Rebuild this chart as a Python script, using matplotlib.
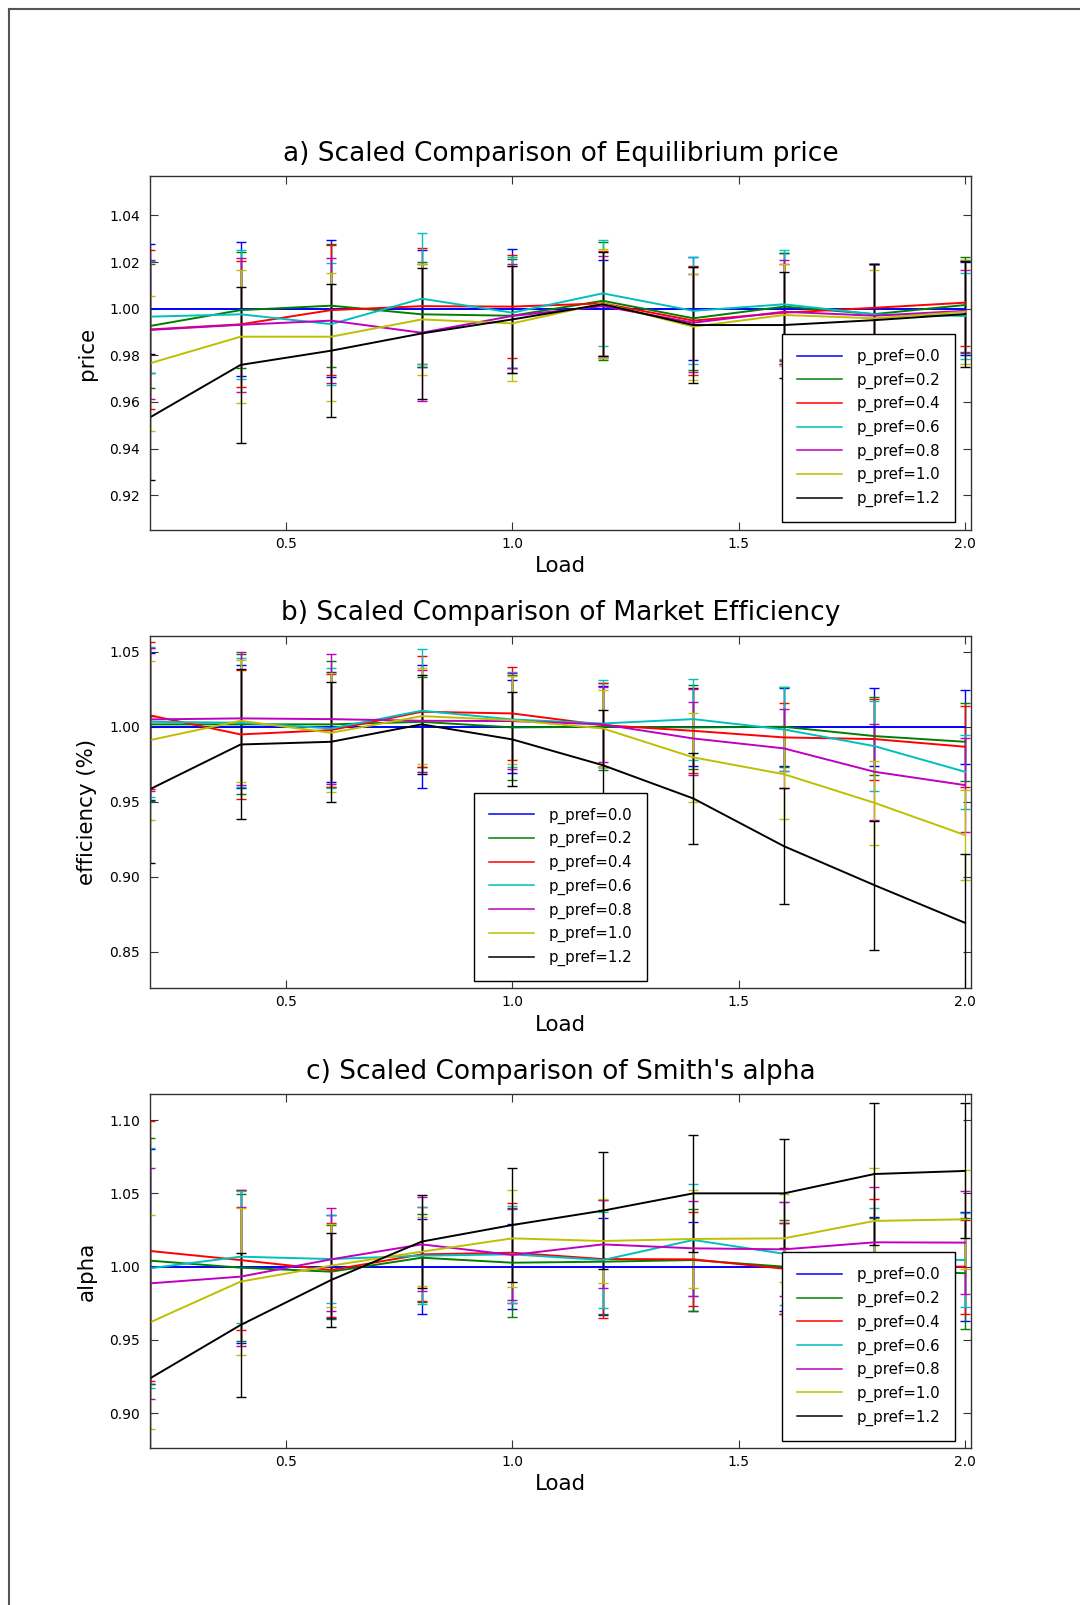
import matplotlib.pyplot as plt
from matplotlib.lines import Line2D

LOAD = [0.2, 0.4, 0.6, 0.8, 1.0, 1.2, 1.4, 1.6, 1.8, 2.0]
P_PREF = ['0.0', '0.2', '0.4', '0.6', '0.8', '1.0', '1.2']
COLORS = ['b', 'g', 'r', 'c', 'm', 'y', 'k']

# equilibrium price, scaled to the p_pref=0.0 run
PRICE_MEAN = [
    [1.0, 1.0, 1.0, 1.0, 1.0, 1.0, 1.0, 1.0, 1.0, 1.0],
    [0.9926, 0.9994, 1.0013, 0.9976, 0.9970, 1.0034, 0.9959, 1.0009, 0.9977, 1.0016],
    [0.9911, 0.9933, 0.9994, 1.0011, 1.0009, 1.0023, 0.9949, 0.9983, 1.0004, 1.0026],
    [0.9966, 0.9976, 0.9934, 1.0043, 0.9983, 1.0066, 0.9991, 1.0019, 0.9976, 0.9969],
    [0.9909, 0.9931, 0.9949, 0.9897, 0.9969, 1.0011, 0.9940, 0.9987, 0.9970, 0.9991],
    [0.9766, 0.9880, 0.9880, 0.9954, 0.9937, 1.0023, 0.9923, 0.9973, 0.9959, 0.9987],
    [0.9534, 0.9759, 0.9820, 0.9894, 0.9954, 1.0019, 0.9930, 0.9930, 0.9951, 0.9977],
]
PRICE_ERR = [
    [0.0277, 0.0287, 0.0294, 0.0251, 0.0256, 0.0211, 0.0222, 0.0237, 0.0191, 0.0200],
    [0.0265, 0.0250, 0.0264, 0.0225, 0.0244, 0.0252, 0.0220, 0.0228, 0.0214, 0.0204],
    [0.0340, 0.0270, 0.0280, 0.0248, 0.0220, 0.0225, 0.0235, 0.0208, 0.0187, 0.0185],
    [0.0240, 0.0277, 0.0260, 0.0280, 0.0237, 0.0228, 0.0230, 0.0235, 0.0215, 0.0183],
    [0.0298, 0.0288, 0.0267, 0.0293, 0.0223, 0.0215, 0.0210, 0.0224, 0.0221, 0.0175],
    [0.0290, 0.0284, 0.0275, 0.0237, 0.0247, 0.0234, 0.0228, 0.0218, 0.0207, 0.0222],
    [0.0270, 0.0335, 0.0284, 0.0280, 0.0228, 0.0223, 0.0250, 0.0229, 0.0240, 0.0228],
]

# market efficiency
EFF_MEAN = [
    [1.0, 1.0, 1.0, 1.0, 1.0, 1.0, 1.0, 1.0, 1.0, 1.0],
    [1.0016, 1.0016, 1.0016, 1.0033, 0.9996, 1.0000, 0.9996, 1.0000, 0.9938, 0.9900],
    [1.0076, 0.9949, 0.9978, 1.0100, 1.0089, 1.0011, 0.9973, 0.9929, 0.9918, 0.9867],
    [1.0033, 1.0027, 0.9989, 1.0107, 1.0049, 1.0022, 1.0051, 0.9982, 0.9871, 0.9700],
    [1.0049, 1.0056, 1.0051, 1.0040, 1.0038, 1.0016, 0.9922, 0.9856, 0.9700, 0.9611],
    [0.9911, 1.0040, 0.9960, 1.0071, 1.0044, 0.9989, 0.9796, 0.9684, 0.9493, 0.9278],
    [0.9584, 0.9882, 0.9900, 1.0016, 0.9916, 0.9744, 0.9522, 0.9204, 0.8944, 0.8693],
]
EFF_ERR = [
    [0.0490, 0.0410, 0.0367, 0.0410, 0.0310, 0.0270, 0.0260, 0.0260, 0.0260, 0.0247],
    [0.0510, 0.0467, 0.0420, 0.0300, 0.0352, 0.0290, 0.0280, 0.0265, 0.0260, 0.0260],
    [0.0491, 0.0430, 0.0377, 0.0369, 0.0310, 0.0280, 0.0280, 0.0227, 0.0270, 0.0270],
    [0.0500, 0.0430, 0.0400, 0.0411, 0.0316, 0.0289, 0.0270, 0.0280, 0.0300, 0.0245],
    [0.0478, 0.0444, 0.0433, 0.0340, 0.0322, 0.0250, 0.0245, 0.0262, 0.0320, 0.0311],
    [0.0530, 0.0407, 0.0397, 0.0320, 0.0294, 0.0255, 0.0295, 0.0300, 0.0280, 0.0300],
    [0.0490, 0.0500, 0.0400, 0.0330, 0.0313, 0.0367, 0.0305, 0.0385, 0.0430, 0.0458],
]

# Smith's alpha
ALPHA_MEAN = [
    [1.0, 1.0, 1.0, 1.0, 1.0, 1.0, 1.0, 1.0, 1.0, 1.0],
    [1.0041, 0.9993, 0.9966, 1.0061, 1.0027, 1.0034, 1.0045, 1.0000, 0.9980, 0.9955],
    [1.0107, 1.0045, 0.9977, 1.0084, 1.0095, 1.0052, 1.0050, 0.9986, 1.0000, 1.0000],
    [0.9989, 1.0068, 1.0052, 1.0075, 1.0084, 1.0045, 1.0182, 1.0088, 1.0060, 1.0045],
    [0.9886, 0.9932, 1.0050, 1.0152, 1.0080, 1.0152, 1.0125, 1.0118, 1.0166, 1.0164],
    [0.9620, 0.9898, 1.0007, 1.0102, 1.0193, 1.0175, 1.0189, 1.0193, 1.0312, 1.0323],
    [0.9238, 0.9602, 0.9909, 1.0171, 1.0284, 1.0382, 1.0500, 1.0500, 1.0632, 1.0653],
]
ALPHA_ERR = [
    [0.0800, 0.0520, 0.0350, 0.0325, 0.0290, 0.0330, 0.0305, 0.0300, 0.0340, 0.0370],
    [0.0840, 0.0500, 0.0320, 0.0300, 0.0370, 0.0355, 0.0350, 0.0320, 0.0350, 0.0380],
    [0.0890, 0.0480, 0.0320, 0.0320, 0.0340, 0.0400, 0.0320, 0.0310, 0.0460, 0.0320],
    [0.0820, 0.0450, 0.0300, 0.0330, 0.0330, 0.0330, 0.0380, 0.0350, 0.0340, 0.0320],
    [0.0790, 0.0473, 0.0350, 0.0320, 0.0310, 0.0300, 0.0325, 0.0320, 0.0380, 0.0350],
    [0.0730, 0.0500, 0.0285, 0.0235, 0.0330, 0.0285, 0.0335, 0.0300, 0.0360, 0.0336],
    [0.0760, 0.0490, 0.0320, 0.0315, 0.0390, 0.0400, 0.0400, 0.0370, 0.0485, 0.0460],
]

TITLES = [
    'a) Scaled Comparison of Equilibrium price',
    'b) Scaled Comparison of Market Efficiency',
    "c) Scaled Comparison of Smith's alpha",
]
YLABELS = ['price', 'efficiency (%)', 'alpha']
YLIMS = [(0.9051, 1.0569), (0.8256, 1.0607), (0.8765, 1.1178)]
YTICKS = [
    [0.92, 0.94, 0.96, 0.98, 1.00, 1.02, 1.04],
    [0.85, 0.90, 0.95, 1.00, 1.05],
    [0.90, 0.95, 1.00, 1.05, 1.10],
]
XTICKS = [0.5, 1.0, 1.5, 2.0]

# axes rectangles [left, bottom, width, height] in figure fraction
BOXES = [
    [0.1389, 0.6698, 0.7599, 0.2205],
    [0.1389, 0.3842, 0.7599, 0.2197],
    [0.1389, 0.0980, 0.7599, 0.2204],
]
LEGENDS = [
    ('lower right', (0.981, 0.022)),
    ('lower center', (0.5, 0.021)),
    ('lower right', (0.981, 0.020)),
]


def plot_panel(ax, means, errs, title, ylabel, ylim, yticks, legend):
    for mean, err, color, pref in zip(means, errs, COLORS, P_PREF):
        ax.errorbar(LOAD, mean, yerr=err, color=color, lw=1.4, elinewidth=1.0,
                    capsize=3.3, capthick=1.0, label=f'p_pref={pref}')
    ax.set_xlim(0.2, 2.0126)
    ax.set_ylim(*ylim)
    ax.set_xticks(XTICKS)
    ax.set_xticklabels([f'{t:.1f}' for t in XTICKS])
    ax.set_yticks(yticks)
    ax.set_yticklabels([f'{t:.2f}' for t in yticks])
    ax.tick_params(direction='in', length=6, width=0.8, top=True, right=True,
                   labelsize=10, color='#333333')
    ax.tick_params(axis='x', pad=5)
    ax.tick_params(axis='y', pad=7)
    for s in ax.spines.values():
        s.set_linewidth(1.0)
        s.set_color('#333333')
    ax.set_title(title, fontsize=19, pad=11)
    ax.set_xlabel('Load', fontsize=15.4, labelpad=4)
    ax.set_ylabel(ylabel, fontsize=15.4, labelpad=9)

    loc, anchor = legend
    labels = [f'p_pref={p}' for p in P_PREF]
    handles = [Line2D([], [], color=c, lw=1.1) for c in COLORS]
    leg = ax.legend(handles, labels, loc=loc, bbox_to_anchor=anchor,
                    borderaxespad=0, fontsize=10.8, handlelength=3.0,
                    handletextpad=0.96, borderpad=1.0, labelspacing=0.5,
                    fancybox=False, framealpha=1.0)
    leg.get_frame().set_edgecolor('k')
    leg.get_frame().set_linewidth(1.0)


fig = plt.figure(figsize=(10.8, 16.05), dpi=100)

panels = [
    (PRICE_MEAN, PRICE_ERR),
    (EFF_MEAN, EFF_ERR),
    (ALPHA_MEAN, ALPHA_ERR),
]
for i, (means, errs) in enumerate(panels):
    ax = fig.add_axes(BOXES[i])
    plot_panel(ax, means, errs, TITLES[i], YLABELS[i], YLIMS[i], YTICKS[i], LEGENDS[i])

# window frame along the top and left edges
fig.add_artist(Line2D([9 / 1080, 9 / 1080], [0, 1 - 9 / 1605], color='#555555',
                      lw=1.5, transform=fig.transFigure))
fig.add_artist(Line2D([9 / 1080, 1], [1 - 9 / 1605, 1 - 9 / 1605], color='#555555',
                      lw=1.5, transform=fig.transFigure))

fig.savefig('out.png', dpi=100)
